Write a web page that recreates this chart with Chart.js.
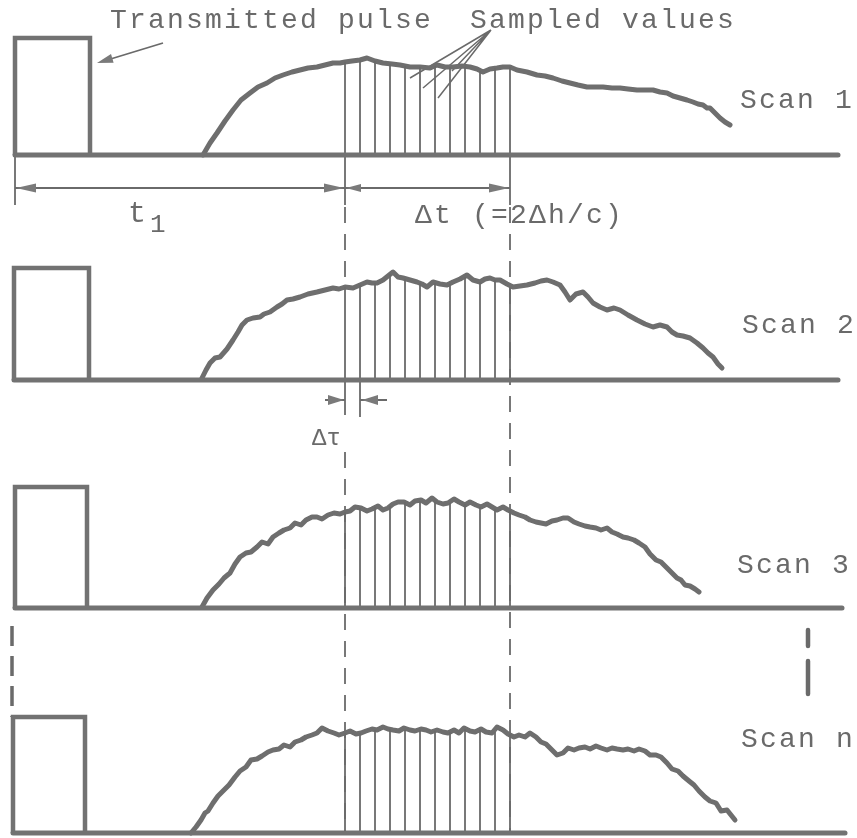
<!DOCTYPE html>
<html>
<head>
<meta charset="utf-8">
<script src="https://cdn.jsdelivr.net/npm/chart.js@4.4.0/dist/chart.umd.min.js"></script>
<style>
  html, body { margin: 0; padding: 0; background: #ffffff; }
  #wrap { width: 857px; height: 838px; }
</style>
</head>
<body>
<div id="wrap"><canvas id="c" width="857" height="838"></canvas></div>
<script>
// ---------------- DATA (time units along the scan, amplitude units above each baseline) ----------------
const scanLabels = ['Scan 1', 'Scan 2', 'Scan 3', 'Scan n'];

// transmitted pulse of each scan: start time, end time, height
const pulseStart  = [15, 14, 15, 13];
const pulseEnd    = [90, 89, 87, 85];
const pulseHeight = [117, 112, 121, 116];

// end time of each scan's time base
const baseEnd = [838, 838, 842, 845];

// received echo, scan 1
const echoT1 = [203,210,217,225,233,241,250,258,267,275,283,292,300,308,317,325,333,340,345,352,360,367,375,383,392,400,410,420,430,437,445,453,462,470,477,483,490,497,503,510,517,527,537,545,553,562,570,578,587,595,603,612,620,628,637,645,653,660,667,673,680,687,693,698,703,707,710,715,720,725,730];
const echoA1 = [0,12,22,34,45,55,62,68,72,77,80,83,85,87,88,90,92,92,93,94,95,97,94,92,91,90,88,88,87,90,88,88,89,88,86,83,86,87,88,88,85,83,80,79,77,74,72,70,68,68,68,67,67,66,65,65,65,63,62,59,57,55,53,51,50,47,47,42,37,33,30];

// received echo, scan 2
const echoT2 = [202,206,210,215,220,227,233,238,242,247,253,260,264,270,277,282,287,293,300,308,317,325,333,339,345,353,360,367,372,377,383,388,393,398,403,410,417,422,427,433,440,447,453,460,467,473,480,485,490,495,500,507,513,520,527,535,541,547,553,560,565,570,576,583,588,593,600,607,614,620,628,637,645,653,660,667,672,677,683,690,697,703,708,713,718,722];
const echoA2 = [2,10,17,22,23,31,40,48,55,60,62,63,66,68,73,76,80,81,83,86,88,90,92,91,93,92,95,98,97,97,100,104,108,103,102,100,98,96,93,98,96,95,98,101,105,100,98,101,102,100,100,96,93,94,95,97,99,100,98,95,88,80,86,88,83,77,73,70,72,70,65,60,56,53,55,53,48,45,44,42,37,32,27,23,16,12];

// received echo, scan 3
const echoT3 = [202,207,213,219,224,230,235,240,246,251,257,262,268,273,279,284,290,295,301,306,312,317,322,328,334,340,345,350,355,361,367,372,378,383,388,393,398,404,410,415,421,426,432,437,443,448,454,459,465,470,476,481,487,492,497,503,508,514,519,525,530,536,541,546,552,557,563,568,574,579,585,590,596,601,607,612,617,623,628,634,639,645,650,656,661,667,672,677,681,685,690,695,699];
const echoA3 = [1,10,18,24,30,35,44,51,55,56,61,66,64,71,75,78,80,85,83,88,91,91,89,93,95,94,96,97,101,100,97,99,102,98,100,104,106,106,103,107,108,105,110,106,104,105,109,106,103,106,103,101,104,101,98,101,98,95,93,91,88,86,85,84,87,88,90,90,86,84,82,81,80,78,80,76,74,71,70,68,65,61,54,48,46,40,35,30,28,23,22,19,16];

// received echo, scan n
const echoT4 = [191,196,201,205,208,213,218,224,229,235,240,246,251,257,262,268,273,279,284,290,295,301,306,312,317,322,328,334,339,345,350,356,361,366,372,377,383,388,393,399,404,410,415,421,426,431,437,443,448,454,459,464,470,475,481,486,492,497,503,508,514,519,525,530,536,541,546,552,557,563,568,574,579,585,590,596,601,607,612,617,623,628,634,639,645,650,656,661,667,672,678,683,689,694,699,705,710,716,721,727,731,735];
const echoA4 = [0,6,13,20,22,30,37,43,48,56,62,66,73,74,77,81,83,84,88,86,91,93,96,98,100,105,102,100,98,100,102,99,100,102,104,103,106,104,103,102,105,103,102,104,103,101,103,101,100,103,100,105,102,101,104,101,100,106,103,99,96,98,96,100,96,91,89,83,78,80,85,83,85,86,84,87,85,83,85,84,83,84,82,84,82,78,78,76,70,64,62,57,52,48,42,36,32,30,22,23,18,13];

// sampling instants and sampled values
const sampleTimes = [345,360,375,390,405,420,435,450,465,480,495,510];
const samples1 = [93,95,94,91,89,88,89,88,88,84,87,88];
const samples2 = [93,95,97,106,101,97,97,96,103,98,100,93];
const samples3 = [96,100,101,102,106,107,106,105,104,101,99,98];
const samples4 = [100,100,103,104,103,103,102,101,104,103,101,99];

// ---------------- LAYOUT ----------------
const rowBase = [155, 380, 608, 833];   // vertical position of each scan's time base
const INK = '#727272';
const FONT = '"Liberation Mono", "Courier New", monospace';

const echoT = [echoT1, echoT2, echoT3, echoT4];
const echoA = [echoA1, echoA2, echoA3, echoA4];
const samples = [samples1, samples2, samples3, samples4];

function row(i, t, a) { return { x: t, y: rowBase[i] - a }; }

const datasets = [];
for (let i = 0; i < 4; i++) {
  datasets.push({ data: [row(i, pulseStart[i], 0), row(i, baseEnd[i], 0)],
    borderColor: INK, borderWidth: 5, borderCapStyle: 'round' });
  datasets.push({ data: [row(i, pulseStart[i], 0), row(i, pulseStart[i], pulseHeight[i]),
      row(i, pulseEnd[i], pulseHeight[i]), row(i, pulseEnd[i], 0)],
    borderColor: INK, borderWidth: 4.5, borderJoinStyle: 'miter' });
  const sd = [];
  sampleTimes.forEach((t, k) => {
    sd.push(row(i, t, 0)); sd.push(row(i, t, samples[i][k])); sd.push({ x: t, y: null });
  });
  datasets.push({ data: sd, borderColor: '#6a6a6a', borderWidth: 1.8, spanGaps: false });
  datasets.push({ data: echoT[i].map((t, k) => row(i, t, echoA[i][k])),
    borderColor: '#6e6e6e', borderWidth: 5, borderJoinStyle: 'round', borderCapStyle: 'round' });
}

function arrowHead(ctx, x, y, dx, dy, len, half) {
  const L = Math.hypot(dx, dy); const ux = dx / L, uy = dy / L;
  ctx.beginPath();
  ctx.moveTo(x, y);
  ctx.lineTo(x - ux * len - uy * half, y - uy * len + ux * half);
  ctx.lineTo(x - ux * len + uy * half, y - uy * len - ux * half);
  ctx.closePath(); ctx.fill();
}

function text(ctx, s, x, y, size, spacing) {
  ctx.font = size + 'px ' + FONT;
  if ('letterSpacing' in ctx) ctx.letterSpacing = spacing + 'px';
  ctx.fillText(s, x, y);
  if ('letterSpacing' in ctx) ctx.letterSpacing = '0px';
}

const diagram = {
  id: 'diagram',
  beforeDraw(chart) {
    const ctx = chart.ctx;
    ctx.save(); ctx.fillStyle = '#ffffff'; ctx.fillRect(0, 0, chart.width, chart.height); ctx.restore();
  },
  beforeDatasetsDraw(chart) {
    const ctx = chart.ctx, X = v => chart.scales.x.getPixelForValue(v), Y = v => chart.scales.y.getPixelForValue(v);
    const t0 = sampleTimes[0], tN = sampleTimes[sampleTimes.length - 1];
    ctx.save();
    ctx.strokeStyle = '#6a6a6a'; ctx.fillStyle = '#7a7a7a'; ctx.lineWidth = 1.8;
    ctx.beginPath();
    ctx.moveTo(X(pulseStart[0]), Y(rowBase[0])); ctx.lineTo(X(pulseStart[0]), Y(rowBase[0] + 50));
    ctx.moveTo(X(t0), Y(rowBase[0])); ctx.lineTo(X(t0), Y(rowBase[0] + 50));
    ctx.moveTo(X(tN), Y(rowBase[0])); ctx.lineTo(X(tN), Y(rowBase[0] + 50));
    ctx.moveTo(X(sampleTimes[0]), Y(rowBase[1])); ctx.lineTo(X(sampleTimes[0]), Y(rowBase[1] + 35));
    ctx.moveTo(X(sampleTimes[1]), Y(rowBase[1])); ctx.lineTo(X(sampleTimes[1]), Y(rowBase[1] + 37));
    ctx.stroke();
    // dashed continuation of the sampling window
    ctx.setLineDash([16, 11]);
    ctx.beginPath();
    ctx.moveTo(X(t0), Y(rowBase[0] + 52)); ctx.lineTo(X(t0), Y(rowBase[1] - 95));
    ctx.moveTo(X(t0), Y(rowBase[1] + 72)); ctx.lineTo(X(t0), Y(rowBase[3]));
    ctx.moveTo(X(tN), Y(rowBase[0] + 52)); ctx.lineTo(X(tN), Y(rowBase[3]));
    ctx.stroke();
    // marks for the omitted scans
    ctx.lineWidth = 3.5; ctx.setLineDash([20, 10]);
    ctx.beginPath();
    ctx.moveTo(X(12), Y(rowBase[2] + 18)); ctx.lineTo(X(12), Y(rowBase[3] - pulseHeight[3]));
    ctx.stroke();
    ctx.lineWidth = 4.5; ctx.setLineDash([]); ctx.lineCap = 'round';
    ctx.beginPath();
    ctx.moveTo(X(808), Y(rowBase[2] + 22)); ctx.lineTo(X(808), Y(rowBase[2] + 38));
    ctx.moveTo(X(808), Y(rowBase[2] + 53)); ctx.lineTo(X(808), Y(rowBase[2] + 86));
    ctx.stroke();
    ctx.lineCap = 'butt';
    // dimension lines t1 and Δt
    const yd = Y(rowBase[0] + 33);
    ctx.lineWidth = 1.8;
    ctx.beginPath();
    ctx.moveTo(X(pulseStart[0]), yd); ctx.lineTo(X(t0), yd);
    ctx.moveTo(X(t0), yd); ctx.lineTo(X(tN), yd);
    ctx.stroke();
    arrowHead(ctx, X(pulseStart[0]) + 1, yd, -1, 0, 20, 4.5);
    arrowHead(ctx, X(t0) - 1, yd, 1, 0, 20, 4.5);
    arrowHead(ctx, X(t0) + 1, yd, -1, 0, 15, 4);
    arrowHead(ctx, X(tN) - 1, yd, 1, 0, 20, 4.5);
    // Δτ arrows
    const yt = Y(rowBase[1] + 20);
    ctx.beginPath();
    ctx.moveTo(X(325), yt); ctx.lineTo(X(sampleTimes[0]), yt);
    ctx.moveTo(X(sampleTimes[1]), yt); ctx.lineTo(X(387), yt);
    ctx.stroke();
    arrowHead(ctx, X(sampleTimes[0]) - 1, yt, 1, 0, 16, 5);
    arrowHead(ctx, X(sampleTimes[1]) + 2, yt, -1, 0, 16, 5);
    // pointer to the transmitted pulse
    ctx.beginPath(); ctx.moveTo(163, 43); ctx.lineTo(104, 61); ctx.stroke();
    arrowHead(ctx, 97, 63, -66, 20, 16, 4.5);
    // pointers to the sampled values
    ctx.lineWidth = 1.5;
    ctx.beginPath();
    [[410, 78], [423, 88], [438, 98], [452, 71]].forEach(p => { ctx.moveTo(491, 30); ctx.lineTo(p[0], p[1]); });
    ctx.stroke();
    ctx.restore();
  },
  afterDatasetsDraw(chart) {
    const ctx = chart.ctx;
    ctx.save();
    ctx.fillStyle = '#6a6a6a'; ctx.textBaseline = 'alphabetic';
    text(ctx, 'Transmitted pulse', 110, 28, 28, 2.2);
    text(ctx, 'Sampled values', 470, 28, 28, 2.2);
    text(ctx, scanLabels[0], 740, 108, 28, 2.2);
    text(ctx, scanLabels[1], 742, 333, 28, 2.2);
    text(ctx, scanLabels[2], 737, 573, 28, 2.2);
    text(ctx, scanLabels[3], 741, 747, 28, 2.2);
    text(ctx, 't', 128, 222, 30, 0);
    text(ctx, '1', 150, 232, 26, 0);
    text(ctx, 'Δt (=2Δh/c)', 415, 223, 28, 2.2);
    text(ctx, 'Δτ', 312, 445, 24, 0);
    ctx.restore();
  }
};

new Chart(document.getElementById('c'), {
  type: 'scatter',
  data: { datasets: datasets.map(d => Object.assign({ showLine: true, pointRadius: 0, pointHoverRadius: 0, fill: false, tension: 0 }, d)) },
  options: {
    responsive: false,
    animation: false,
    events: [],
    layout: { padding: 0 },
    plugins: { legend: { display: false }, tooltip: { enabled: false } },
    scales: {
      x: { type: 'linear', min: 0, max: 857, display: false },
      y: { type: 'linear', min: 0, max: 838, reverse: true, display: false }
    }
  },
  plugins: [diagram]
});
</script>
</body>
</html>
